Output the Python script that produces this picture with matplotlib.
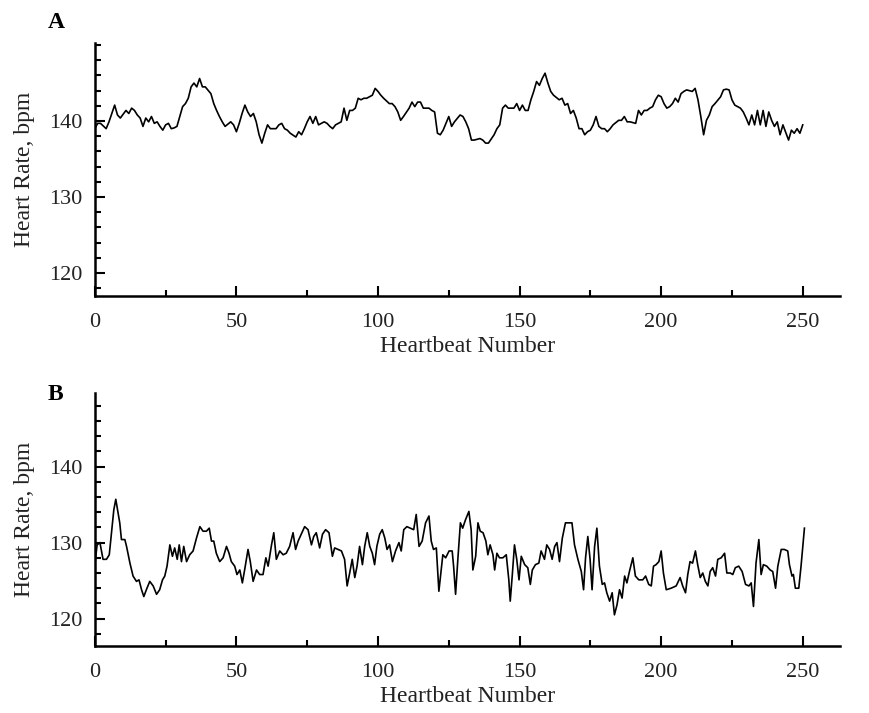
import matplotlib
matplotlib.use("Agg")
import matplotlib.pyplot as plt
from matplotlib.ticker import MultipleLocator

# Panel A: heartbeat number and heart rate (bpm)
beats_a = [0, 1, 2, 4, 5, 7, 8, 9, 11, 12, 13, 14, 15, 16, 17, 18, 19, 20, 21, 22,
           23, 24, 25, 26, 27, 28, 29, 30, 31, 32, 33, 34, 35, 36, 37, 38, 39, 41, 42, 43,
           44, 45, 46, 48, 49, 50, 51, 52, 53, 54, 55, 56, 57, 58, 59, 60, 61, 62, 64, 65,
           66, 67, 68, 69, 71, 72, 73, 74, 75, 76, 77, 78, 79, 81, 82, 83, 84, 85, 86, 87,
           88, 89, 90, 91, 92, 93, 94, 95, 96, 98, 99, 100, 101, 102, 104, 105, 106, 107, 108, 109,
           111, 112, 113, 114, 115, 116, 118, 119, 120, 121, 122, 123, 124, 125, 126, 127, 129, 130, 131, 132,
           133, 134, 136, 137, 138, 139, 141, 142, 143, 144, 145, 146, 148, 149, 150, 151, 152, 153, 154, 155,
           156, 157, 158, 159, 160, 161, 162, 163, 164, 165, 166, 167, 168, 169, 170, 171, 172, 173, 174, 175,
           176, 177, 178, 179, 180, 181, 182, 183, 185, 186, 187, 188, 189, 191, 192, 193, 194, 195, 196, 197,
           198, 199, 200, 201, 202, 203, 204, 205, 206, 207, 208, 209, 211, 212, 213, 214, 215, 216, 217, 218,
           219, 221, 222, 223, 224, 225, 226, 228, 229, 230, 231, 232, 233, 234, 235, 236, 237, 238, 239, 240,
           241, 242, 243, 245, 246, 247, 248, 249, 250]
rate_a = [139.0, 139.7, 139.7, 139.0, 139.9, 142.1, 140.8, 140.4, 141.4, 141.0, 141.7, 141.4, 140.8, 140.4, 139.3, 140.4, 139.9, 140.6, 139.7, 139.9,
          139.3, 138.8, 139.5, 139.7, 139.0, 139.1, 139.3, 140.6, 141.9, 142.3, 143.0, 144.5, 145.0, 144.5, 145.6, 144.5, 144.5, 143.6, 142.3, 141.4,
          140.6, 139.9, 139.3, 139.9, 139.5, 138.6, 139.7, 141.0, 142.1, 141.2, 140.6, 141.0, 139.9, 138.2, 137.1, 138.4, 139.5, 139.0, 139.0, 139.5,
          139.7, 139.0, 138.8, 138.4, 137.9, 138.6, 138.2, 139.0, 139.9, 140.6, 139.7, 140.6, 139.5, 139.9, 139.7, 139.3, 139.0, 139.5, 139.7, 139.9,
          141.7, 140.1, 141.4, 141.4, 141.7, 143.0, 142.8, 143.0, 143.0, 143.4, 144.3, 143.9, 143.4, 143.0, 142.3, 142.3, 141.9, 141.2, 140.1, 140.6,
          141.7, 142.5, 141.9, 142.5, 142.5, 141.7, 141.7, 141.4, 141.2, 138.4, 138.2, 138.8, 139.7, 140.6, 139.3, 139.9, 140.8, 140.6, 139.9, 139.0,
          137.5, 137.5, 137.7, 137.5, 137.1, 137.1, 138.2, 139.0, 139.5, 141.7, 142.1, 141.7, 141.7, 142.3, 141.4, 142.1, 141.4, 141.4, 142.8, 143.9,
          145.2, 144.7, 145.6, 146.3, 145.0, 143.9, 143.4, 143.1, 142.8, 143.0, 142.1, 142.3, 141.0, 141.4, 140.4, 139.0, 139.0, 138.2, 138.6, 138.8,
          139.5, 140.6, 139.3, 139.0, 139.0, 138.6, 139.0, 139.5, 140.1, 140.1, 140.6, 139.9, 139.9, 139.7, 141.4, 140.8, 141.4, 141.4, 141.7, 141.9,
          142.8, 143.4, 143.2, 142.3, 141.7, 141.9, 142.3, 143.0, 142.5, 143.6, 143.9, 144.1, 143.9, 144.3, 142.8, 140.6, 138.2, 140.1, 140.8, 141.9,
          142.3, 143.2, 144.1, 144.2, 144.1, 142.8, 142.1, 141.7, 141.2, 140.4, 139.5, 140.8, 139.5, 141.4, 139.5, 141.4, 139.3, 141.2, 140.1, 139.3,
          139.9, 138.2, 139.5, 137.5, 138.8, 138.4, 139.0, 138.4, 139.5]

# Panel B: heartbeat number and heart rate (bpm)
beats_b = [0.0, 0.8, 1.8, 2.9, 4.1, 5.1, 5.9, 6.7, 7.4, 8.8, 9.4, 10.6, 11.2, 12.4, 13.5, 14.7, 15.6, 16.5, 17.3, 18.2,
           19.4, 20.6, 21.8, 22.9, 23.9, 24.7, 25.5, 26.5, 27.4, 28.2, 29.1, 29.8, 30.6, 31.4, 32.4, 33.5, 34.7, 35.9, 37.1, 38.2,
           39.4, 40.4, 41.2, 42.0, 42.9, 44.1, 45.3, 46.5, 47.4, 48.2, 49.4, 50.2, 51.2, 52.1, 52.9, 54.1, 54.9, 55.9, 57.1, 58.2,
           59.4, 60.4, 61.2, 62.4, 63.2, 64.1, 65.3, 66.5, 67.6, 68.8, 70.0, 70.9, 71.8, 72.9, 74.1, 75.3, 76.5, 77.3, 78.2, 79.4,
           80.4, 81.5, 82.7, 83.9, 84.7, 85.9, 87.1, 88.2, 89.1, 90.0, 90.9, 91.8, 92.6, 93.5, 94.5, 95.3, 96.2, 97.1, 98.0, 98.8,
           99.6, 100.6, 101.5, 102.4, 103.2, 104.1, 105.1, 106.2, 107.4, 108.2, 109.1, 110.2, 111.4, 112.6, 113.5, 114.5, 115.6, 116.8, 118.0, 118.8,
           119.6, 120.6, 121.5, 122.9, 123.9, 125.1, 126.2, 126.7, 127.4, 128.2, 129.1, 129.9, 130.9, 132.1, 132.9, 133.5, 134.5, 135.3, 136.1, 137.1,
           138.1, 138.8, 139.6, 140.6, 141.2, 142.0, 142.9, 144.1, 145.3, 146.2, 146.7, 147.4, 148.2, 149.0, 149.8, 150.6, 151.8, 152.9, 153.8, 154.5,
           155.6, 156.8, 157.6, 158.8, 159.6, 160.6, 161.5, 162.4, 163.2, 164.1, 165.1, 166.2, 167.4, 168.5, 169.4, 170.6, 171.8, 172.6, 173.3, 174.1,
           174.9, 175.6, 176.5, 177.3, 178.2, 179.2, 180.0, 180.8, 181.8, 182.7, 183.5, 184.4, 185.3, 186.2, 187.1, 187.9, 188.8, 190.0, 190.9, 192.1,
           193.5, 194.5, 195.6, 196.5, 197.3, 198.2, 199.2, 200.0, 200.8, 201.8, 203.5, 205.3, 206.7, 207.6, 208.6, 209.4, 210.2, 211.1, 212.1, 212.9,
           213.8, 214.7, 215.6, 216.5, 217.3, 218.2, 219.2, 220.0, 221.2, 222.4, 223.2, 224.4, 225.3, 226.2, 227.4, 228.6, 229.8, 231.0, 231.8, 232.6,
           233.5, 234.5, 235.3, 236.1, 237.3, 238.5, 239.4, 240.4, 241.2, 242.4, 243.5, 244.7, 245.3, 246.2, 246.7, 247.4, 248.6, 249.4, 250.6]
rate_b = [127.1, 129.7, 130.0, 127.8, 127.8, 128.4, 131.3, 134.3, 135.7, 132.6, 130.4, 130.4, 129.5, 127.3, 125.6, 124.9, 125.1, 123.8, 122.9, 123.8,
          124.9, 124.3, 123.2, 123.8, 125.1, 125.6, 126.9, 129.7, 128.2, 129.3, 127.8, 129.7, 127.5, 129.5, 127.5, 128.4, 128.9, 130.6, 132.1, 131.5,
          131.5, 131.9, 130.2, 130.2, 128.6, 127.5, 128.0, 129.5, 128.6, 127.5, 126.9, 125.8, 126.4, 124.7, 126.4, 129.1, 127.5, 124.9, 126.4, 125.8,
          125.8, 128.0, 126.9, 129.7, 131.3, 127.8, 128.9, 128.4, 128.6, 129.5, 131.3, 129.1, 130.2, 131.1, 132.1, 131.7, 129.7, 130.8, 131.3, 129.3,
          131.1, 131.7, 131.3, 128.2, 129.3, 129.1, 128.9, 127.8, 124.3, 126.0, 127.8, 125.4, 126.9, 129.5, 127.1, 129.5, 131.3, 129.5, 128.6, 127.1,
          129.5, 131.1, 131.7, 130.6, 129.1, 129.7, 127.5, 128.9, 130.0, 128.9, 131.7, 132.1, 131.9, 131.7, 133.7, 129.5, 130.2, 132.6, 133.5, 130.2,
          129.1, 129.3, 123.6, 128.4, 128.0, 128.9, 128.9, 126.9, 123.2, 127.8, 132.6, 131.9, 133.0, 134.1, 131.7, 126.4, 128.2, 132.6, 131.5, 131.3,
          130.2, 128.4, 129.7, 128.4, 126.4, 128.6, 128.0, 128.0, 128.4, 125.1, 122.3, 125.6, 129.7, 127.8, 125.1, 128.2, 127.1, 126.7, 124.5, 126.4,
          127.1, 127.3, 128.9, 127.8, 129.7, 129.1, 127.8, 129.5, 130.0, 127.5, 130.6, 132.6, 132.6, 132.6, 129.7, 127.8, 126.2, 123.8, 128.0, 130.8,
          127.8, 123.8, 129.5, 131.9, 126.9, 124.5, 124.7, 123.4, 122.3, 123.4, 120.5, 121.8, 123.8, 122.7, 125.6, 124.7, 126.2, 128.0, 125.6, 125.1,
          125.1, 125.6, 124.5, 124.3, 126.9, 127.1, 127.5, 128.9, 126.0, 123.8, 124.0, 124.3, 125.4, 124.3, 123.4, 125.8, 127.5, 127.3, 128.9, 127.1,
          125.4, 126.0, 124.9, 124.3, 126.2, 126.7, 125.6, 127.8, 128.0, 128.6, 126.0, 126.0, 125.8, 126.7, 126.9, 126.2, 124.5, 124.3, 124.7, 121.6,
          127.3, 130.4, 125.8, 127.1, 126.9, 126.4, 126.2, 124.0, 126.9, 129.1, 129.1, 128.9, 127.1, 125.6, 125.8, 124.0, 124.0, 126.9, 131.9]

x_ticks = [0, 50, 100, 150, 200, 250]
y_ticks = [120, 130, 140]

plt.rcParams['font.family'] = ['Liberation Serif', 'DejaVu Serif']
text_color = '#222222'

fig = plt.figure(figsize=(8.7, 7.13), dpi=100)


def draw_panel(ax, beats, rate, ylim):
    ax.plot(beats, rate, color='black', lw=1.2)
    ax.set_xlim(0, 263)
    ax.set_ylim(*ylim)
    ax.set_xticks(x_ticks)
    ax.set_yticks(y_ticks)
    ax.xaxis.set_minor_locator(MultipleLocator(25))
    ax.yaxis.set_minor_locator(MultipleLocator(2))
    ax.tick_params(which='both', direction='in', width=1.5, labelsize=16,
                   color='black', labelcolor=text_color)
    ax.tick_params(which='major', length=7)
    ax.tick_params(which='minor', length=4.5)
    ax.tick_params(axis='x', which='major', pad=12)
    ax.tick_params(axis='y', which='major', pad=9)
    for side in ['top', 'right']:
        ax.spines[side].set_visible(False)
    for side in ['left', 'bottom']:
        ax.spines[side].set_linewidth(1.8)
    ax.set_xlabel('Heartbeat Number', fontsize=17, labelpad=3, color=text_color)
    ax.set_ylabel('Heart Rate, bpm', fontsize=17, labelpad=10, color=text_color)


ax_a = fig.add_axes([0.109, 0.585, 0.856, 0.355])
draw_panel(ax_a, beats_a, rate_a, (117.0, 150.3))

ax_b = fig.add_axes([0.109, 0.094, 0.856, 0.355])
draw_panel(ax_b, beats_b, rate_b, (116.4, 149.7))

# panel letters
fig.text(56 / 870, 1 - 23 / 713, 'A', fontsize=17, fontweight='bold', ha='center', va='center')
fig.text(55 / 870, 1 - 394 / 713, 'B', fontsize=17, fontweight='bold', ha='center', va='center')

fig.savefig('out.png', dpi=100)
